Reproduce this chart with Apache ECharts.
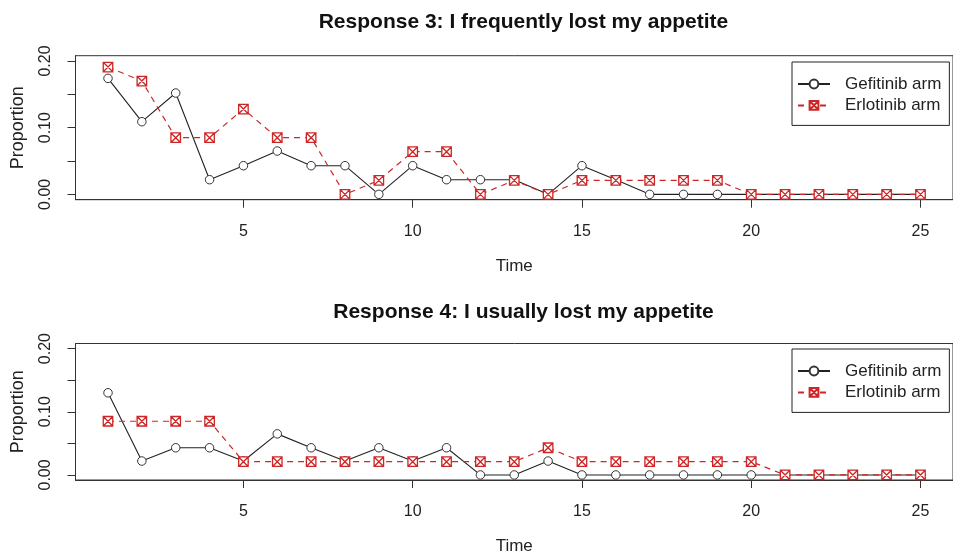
<!DOCTYPE html>
<html>
<head>
<meta charset="utf-8">
<script src="https://cdn.jsdelivr.net/npm/echarts@6/dist/echarts.min.js"></script>
<style>html,body{margin:0;padding:0;background:#fff;}#c{width:953px;height:556px;}</style>
</head>
<body>
<div id="c"></div>
<script>
// ---- data ----
var times = [1,2,3,4,5,6,7,8,9,10,11,12,13,14,15,16,17,18,19,20,21,22,23,24,25];
var titles = ['Response 3: I frequently lost my appetite', 'Response 4: I usually lost my appetite'];
var seriesNames = ['Gefitinib arm', 'Erlotinib arm'];
var gefitinibR3 = [0.174,0.109,0.152,0.022,0.043,0.065,0.043,0.043,0,0.043,0.022,0.022,0.022,0,0.043,0.022,0,0,0,0,0,0,0,0,0];
var erlotinibR3 = [0.191,0.170,0.085,0.085,0.128,0.085,0.085,0,0.021,0.064,0.064,0,0.021,0,0.021,0.021,0.021,0.021,0.021,0,0,0,0,0,0];
var gefitinibR4 = [0.130,0.022,0.043,0.043,0.022,0.065,0.043,0.022,0.043,0.022,0.043,0,0,0.022,0,0,0,0,0,0,0,0,0,0,0];
var erlotinibR4 = [0.085,0.085,0.085,0.085,0.021,0.021,0.021,0.021,0.021,0.021,0.021,0.021,0.021,0.043,0.021,0.021,0.021,0.021,0.021,0.021,0,0,0,0,0];
var xTicks = [5,10,15,20,25];
var yTicks = [0,0.05,0.10,0.15,0.20];
var yLabels = [0,0.10,0.20];

function pairs(vals){ return times.map(function(t,i){ return [t, vals[i]]; }); }

var FONT = 'Liberation Sans, Arial, sans-serif';
var INK = '#222';
var RED = '#CD2626';
var boxX = 'path://M0,0L10,0L10,10L0,10ZM0,0L10,10M10,0L0,10';

var panels = [
  {top: 55.7, height: 144, g: gefitinibR3, e: erlotinibR3, titleTop: 7, legendTop: 62},
  {top: 343.5, height: 143.5, g: gefitinibR4, e: erlotinibR4, titleTop: 297, legendTop: 349}
];

var option = {
  backgroundColor: '#fff',
  animation: false,
  title: [], legend: [], grid: [], xAxis: [], yAxis: [], series: []
};

panels.forEach(function(p, k){
  option.title.push({
    text: titles[k], left: 518.5, top: p.titleTop, textAlign: 'center',
    textStyle: {fontFamily: FONT, fontWeight: 'bold', fontSize: 21, color: '#111'}
  });
  option.grid.push({left: 75.5, top: p.top, width: 886, height: p.height,
    show: true, borderColor: '#333', borderWidth: 1, backgroundColor: 'transparent'});
  option.xAxis.push({
    type: 'value', gridIndex: k, min: 0.04, max: 25.96,
    splitLine: {show: false},
    axisLine: {show: true, onZero: false, lineStyle: {color: '#333'}},
    axisTick: {show: true, length: 8, customValues: xTicks, lineStyle: {color: '#333'}},
    axisLabel: {customValues: xTicks, fontFamily: FONT, fontSize: 16, color: INK, margin: 24},
    name: 'Time', nameLocation: 'middle', nameGap: 58,
    nameTextStyle: {fontFamily: FONT, fontSize: 17, color: INK}
  });
  option.yAxis.push({
    type: 'value', gridIndex: k, min: -0.008, max: 0.208,
    splitLine: {show: false},
    axisLine: {show: true, onZero: false, lineStyle: {color: '#333'}},
    axisTick: {show: true, length: 8, customValues: yTicks, lineStyle: {color: '#333'}},
    axisLabel: {customValues: yLabels, rotate: 90, fontFamily: FONT, fontSize: 16, color: INK, margin: 22,
      formatter: function(v){ return v.toFixed(2); }},
    name: 'Proportion', nameLocation: 'middle', nameRotate: 90, nameGap: 48,
    nameTextStyle: {fontFamily: FONT, fontSize: 18, color: INK}
  });
  option.series.push({
    name: seriesNames[0], type: 'line', xAxisIndex: k, yAxisIndex: k,
    data: pairs(p.g), symbol: 'circle', symbolSize: 8.5,
    itemStyle: {color: '#fff', borderColor: '#333', borderWidth: 1},
    lineStyle: {color: INK, width: 1.1}
  });
  option.series.push({
    name: seriesNames[1], type: 'line', xAxisIndex: k, yAxisIndex: k,
    data: pairs(p.e), symbol: boxX, symbolSize: 9.5, symbolKeepAspect: true,
    itemStyle: {color: '#fff', borderColor: RED, borderWidth: 1.3},
    lineStyle: {color: RED, width: 1.2, type: [6, 5]}
  });
  option.legend.push({
    orient: 'vertical', left: 792, top: p.legendTop,
    data: seriesNames,
    itemWidth: 32, itemHeight: 11, itemGap: 1.4,
    padding: [12, 8, 10, 5],
    borderColor: INK, borderWidth: 1, borderRadius: 0, backgroundColor: '#fff',
    textStyle: {fontFamily: FONT, fontSize: 17, color: INK, lineHeight: 20, padding: [0, 0, 0, 10]},
    selectedMode: false
  });
});

var chart = echarts.init(document.getElementById('c'), null, {renderer: 'canvas'});
chart.setOption(option);
</script>
</body>
</html>
